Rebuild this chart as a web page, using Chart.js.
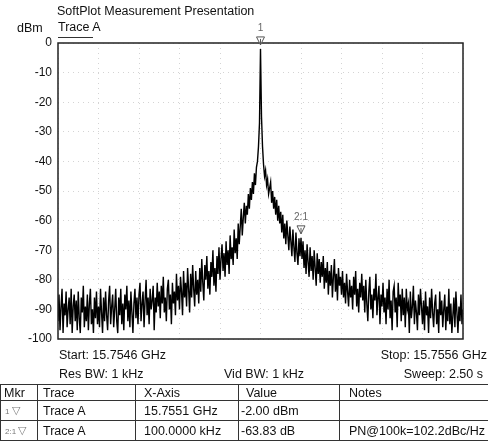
<!DOCTYPE html>
<html>
<head>
<meta charset="utf-8">
<title>SoftPlot Measurement Presentation</title>
<script src="https://cdn.jsdelivr.net/npm/chart.js@4/dist/chart.umd.min.js"></script>
<style>
  body { margin: 0; background: #fff; font-family: "Liberation Sans", Arial, sans-serif; font-size: 12.5px; color: #111; }
  #wrap { position: relative; width: 488px; height: 442px; overflow: hidden; }
  #plot { position: absolute; left: 0; top: 0; }
  .t { position: absolute; white-space: nowrap; line-height: 14px; }
  table { position: absolute; left: 0; top: 384px; width: 488px; border-collapse: collapse; table-layout: fixed; }
  td { border: 1px solid #333; padding: 0 0 0 3px; white-space: nowrap; overflow: hidden; line-height: 14px; }
  tr.h td { height: 15px; }
  tr.r td { height: 19px; }
  .ic { font-size: 8px; color: #777; padding-left: 1px; }
  .ic b { font-size: 11px; font-weight: normal; }
</style>
</head>
<body>
<div id="wrap">
  <canvas id="plot" width="488" height="442"></canvas>
  <div class="t" style="left:57px;top:4px">SoftPlot Measurement Presentation</div>
  <div class="t" style="left:17px;top:21px">dBm</div>
  <div class="t" style="left:58px;top:20px">Trace A</div>
  <div style="position:absolute;left:58px;top:37px;width:35px;height:1px;background:#333"></div>
  <div class="t" id="start" style="left:59px;top:348px"></div>
  <div class="t" id="stop" style="right:1px;top:348px"></div>
  <div class="t" id="rbw" style="left:59px;top:367px"></div>
  <div class="t" id="vbw" style="left:224px;top:367px"></div>
  <div class="t" id="sweep" style="right:5px;top:367px"></div>
  <table id="mk">
    <colgroup><col style="width:37px"><col style="width:98px"><col style="width:103px"><col style="width:101px"><col style="width:149px"></colgroup>
  </table>
</div>
<script>
// sweep settings
const startGHz = 15.7546
const stopGHz = 15.7556
const spanKHz = 1000
const resBW = '1 kHz'
const vidBW = '1 kHz'
const sweepTime = '2.50 s'

// Trace A, 401 sweep points, dBm
const traceA = [
  -94, -85, -97, -89, -83, -98, -88, -92, -84, -96, -90, -86, -95, -83, -98, -89, -85, -94, -87, -97,
  -84, -93, -98, -86, -91, -82, -96, -89, -94, -85, -97, -88, -83, -95, -90, -98, -86, -93, -84, -95,
  -89, -96, -83, -91, -98, -86, -94, -84, -92, -97, -87, -82, -95, -89, -85, -96, -90, -83, -94, -98,
  -86, -92, -83, -95, -88, -97, -85, -90, -82, -94, -87, -96, -84, -91, -98, -88, -83, -93, -86, -95,
  -85, -81, -94, -88, -84, -96, -87, -80, -92, -86, -95, -83, -90, -87, -82, -97, -86, -91, -81, -89,
  -84, -93, -82, -88, -79, -91, -86, -94, -83, -80, -90, -85, -95, -81, -88, -84, -92, -78, -87, -82,
  -90, -79, -84, -92, -77, -86, -81, -89, -76, -83, -91, -78, -86, -75, -83, -89, -77, -85, -80, -88,
  -76, -84, -73, -81, -87, -75, -80, -72, -83, -77, -85, -74, -79, -70, -82, -76, -84, -72, -78, -69,
  -80, -73, -68, -77, -71, -79, -67, -75, -70, -78, -65, -73, -69, -75, -63, -71, -66, -73, -61, -68,
  -62, -56, -65, -59, -54, -61, -55, -58, -51, -56, -49, -53, -47, -51, -44, -48, -42, -40, -35, -27,
  -2,
  -25, -35, -41, -45, -43, -48, -46, -51, -49, -47, -54, -50, -56, -52, -58, -53, -60, -55, -61, -57,
  -64, -58, -66, -61, -68, -60, -65, -70, -62, -67, -72, -63, -69, -74, -64, -71, -75, -66, -72, -65.83,
  -73, -67, -76, -70, -78, -68, -74, -79, -69, -77, -72, -80, -70, -76, -82, -71, -78, -73, -81, -74,
  -79, -72, -83, -76, -81, -74, -85, -77, -82, -75, -86, -79, -73, -84, -78, -87, -76, -82, -79, -85,
  -77, -86, -81, -88, -78, -84, -89, -80, -86, -82, -90, -79, -85, -77, -89, -83, -91, -81, -86, -78,
  -87, -82, -91, -80, -88, -94, -84, -79, -90, -85, -93, -83, -87, -78, -92, -86, -82, -95, -85, -89,
  -81, -91, -86, -95, -83, -90, -80, -93, -87, -97, -84, -82, -91, -86, -96, -81, -89, -85, -94, -83,
  -92, -86, -96, -83, -90, -88, -98, -84, -93, -89, -82, -95, -87, -91, -97, -85, -92, -83, -89, -95,
  -87, -97, -84, -92, -89, -98, -86, -93, -83, -91, -96, -88, -85, -95, -90, -98, -84, -92, -87, -96,
  -90, -85, -97, -89, -94, -83, -95, -88, -98, -92, -86, -96, -84, -91, -98, -89, -94, -85, -95, -90
]

// markers
const markerNames = ['1', '2:1']
const markerKHz = [500, 600]
const markerDBm = [-2.00, -65.83]
const markerXText = ['15.7551 GHz', '100.0000 kHz']
const markerValText = ['-2.00 dBm', '-63.83 dB']
const markerNotes = ['', 'PN@100k=102.2dBc/Hz']

document.getElementById('start').textContent = 'Start: ' + startGHz.toFixed(4) + ' GHz'
document.getElementById('stop').textContent = 'Stop: ' + stopGHz.toFixed(4) + ' GHz'
document.getElementById('rbw').textContent = 'Res BW: ' + resBW
document.getElementById('vbw').textContent = 'Vid BW: ' + vidBW
document.getElementById('sweep').textContent = 'Sweep: ' + sweepTime

// marker table
const tbl = document.getElementById('mk')
let rows = '<tr class="h"><td>Mkr</td><td style="padding-left:5px">Trace</td><td style="padding-left:8px;border-left:1px dotted #888">X-Axis</td><td style="padding-left:7px">Value</td><td style="padding-left:9px">Notes</td></tr>'
markerNames.forEach((m, i) => {
    rows += '<tr class="r"><td><span class="ic">' + m + ' <b>&#9661;</b></span></td>'
        + '<td style="padding-left:5px">Trace A</td>'
        + '<td style="padding-left:8px;border-left:1px dotted #888">' + markerXText[i] + '</td>'
        + '<td style="padding-left:2px">' + markerValText[i] + '</td>'
        + '<td style="padding-left:9px">' + markerNotes[i] + '</td></tr>'
})
tbl.insertAdjacentHTML('beforeend', rows)

const markerPlugin = {
    id: 'markerPlugin',
    afterDatasetsDraw(chart) {
        const ctx = chart.ctx
        const a = chart.chartArea
        ctx.save()
        ctx.strokeStyle = '#222'
        ctx.lineWidth = 1.5
        ctx.strokeRect(a.left, a.top, a.right - a.left, a.bottom - a.top)
        chart.getDatasetMeta(1).data.forEach((p, i) => {
            const tip = p.y - 4
            ctx.beginPath()
            ctx.moveTo(p.x, tip)
            ctx.lineTo(p.x - 4, tip - 8)
            ctx.lineTo(p.x + 4, tip - 8)
            ctx.closePath()
            ctx.fillStyle = '#fff'
            ctx.fill()
            ctx.strokeStyle = '#555'
            ctx.lineWidth = 1
            ctx.stroke()
            ctx.beginPath()
            ctx.moveTo(p.x, tip - 6)
            ctx.lineTo(p.x, tip)
            ctx.stroke()
            ctx.fillStyle = '#666'
            ctx.font = '10px "Liberation Sans"'
            ctx.textAlign = 'center'
            ctx.textBaseline = 'middle'
            ctx.fillText(markerNames[i], p.x, p.y - 21)
        })
        ctx.restore()
    }
}

const plot = new Chart(
    document.getElementById('plot'), {
        type: 'line',
        data: {
            datasets: [{
                label: 'Trace A',
                data: traceA.map((v, i) => ({ x: i * spanKHz / (traceA.length - 1), y: v })),
                borderColor: '#000',
                borderWidth: 1.4,
                pointRadius: 0,
                tension: 0,
            }, {
                label: 'Markers',
                data: markerKHz.map((x, i) => ({ x: x, y: markerDBm[i] })),
                showLine: false,
                pointRadius: 0,
            }]
        },
        options: {
            responsive: false,
            animation: false,
            layout: { padding: { top: 43, right: 25, bottom: 103, left: 0 } },
            plugins: {
                legend: { display: false },
                tooltip: { enabled: false },
            },
            scales: {
                x: {
                    type: 'linear',
                    min: 0,
                    max: spanKHz,
                    ticks: { display: false, stepSize: 100 },
                    grid: { color: '#d4d4d4', drawTicks: false },
                    border: { display: false, dash: [1, 4] },
                    afterFit: (s) => { s.height = 0 },
                },
                y: {
                    min: -100,
                    max: 0,
                    ticks: {
                        stepSize: 10,
                        padding: 6,
                        color: '#111',
                        font: { family: 'Liberation Sans', size: 12 },
                    },
                    grid: { color: '#d4d4d4', drawTicks: false },
                    border: { display: false, dash: [1, 4] },
                    afterFit: (s) => { s.width = 58 },
                }
            }
        },
        plugins: [markerPlugin],
    }
)
</script>
</body>
</html>
